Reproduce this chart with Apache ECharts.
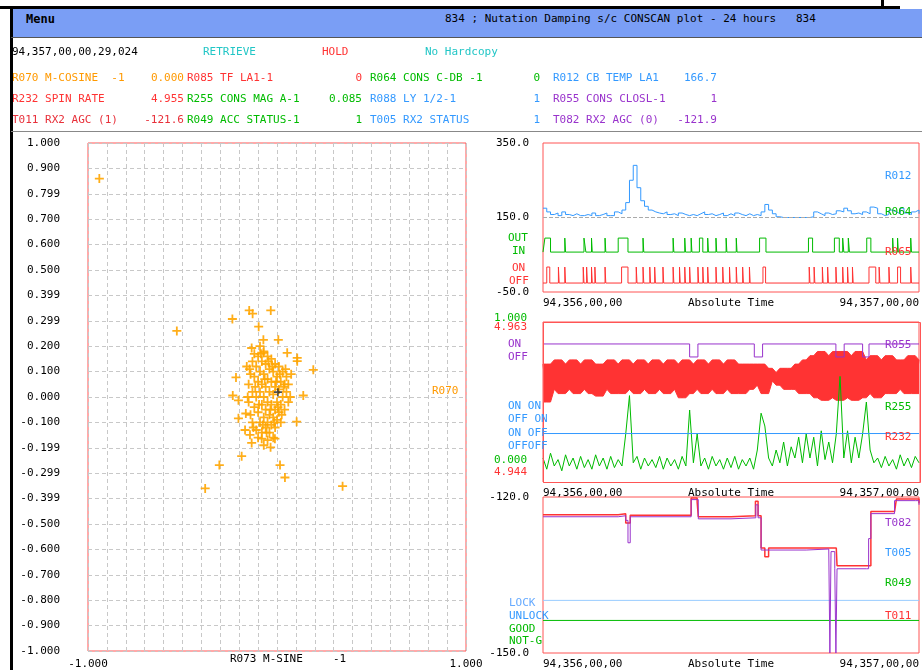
<!DOCTYPE html>
<html>
<head>
<meta charset="utf-8">
<script src="https://cdn.jsdelivr.net/npm/echarts@6/dist/echarts.min.js"></script>
<style>
  body { margin: 0; background: #fff; font-family: 'DejaVu Sans Mono', monospace; font-size: 11px; }
  #wrap { position: relative; width: 922px; height: 670px; overflow: hidden; }
  #chart { position: absolute; left: 0; top: 0; width: 922px; height: 670px; }
  .t { position: absolute; white-space: pre; z-index: 2; }
</style>
</head>
<body>
<div id="wrap">
  <div id="chart"></div>
  <div id="hdr"></div>
</div>
<script>
// ---- header texts ----
const headerRows = [
  [['R070 M-COSINE  -1', '0.000', '#ff9900'], ['R085 TF LA1-1', '0', '#ff3333'], ['R064 CONS C-DB -1', '0', '#00bb00'], ['R012 CB TEMP LA1', '166.7', '#3399ff']],
  [['R232 SPIN RATE', '4.955', '#ff3333'], ['R255 CONS MAG A-1', '0.085', '#00bb00'], ['R088 LY 1/2-1', '1', '#3399ff'], ['R055 CONS CLOSL-1', '1', '#9933cc']],
  [['T011 RX2 AGC (1)', '-121.6', '#e8303a'], ['R049 ACC STATUS-1', '1', '#00bb00'], ['T005 RX2 STATUS', '1', '#3399ff'], ['T082 RX2 AGC (0)', '-121.9', '#9933cc']]
];

// ---- scatter (R073 M-SINE vs R070 M-COSINE) ----
const scatterPts = [
  [-0.94, 0.86], [-0.53, 0.26], [-0.38, -0.36], [0.347, -0.351], [-0.305, -0.268], [0.016, -0.268], [0.042, -0.317],
  [-0.147, 0.341], [-0.129, 0.328], [-0.033, 0.341], [-0.236, 0.307], [-0.097, 0.277], [-0.072, 0.225], [0.007, 0.225],
  [-0.134, 0.193], [-0.072, 0.174], [0.054, 0.174], [0.107, 0.154], [0.107, 0.141], [0.192, 0.107], [-0.217, 0.077],
  [-0.234, 0.006], [-0.204, -0.013], [0.139, 0.006], [0.104, -0.097], [-0.204, -0.084], [-0.165, -0.065], [-0.169, -0.13],
  [-0.143, -0.149], [-0.134, -0.181], [-0.081, -0.164], [-0.034, -0.198], [-0.011, -0.164], [-0.187, -0.233],
  [-0.16, 0.12], [-0.15, 0.05], [-0.15, -0.02], [-0.14, 0.09], [-0.14, -0.07], [-0.13, 0.14], [-0.13, 0.02], [-0.13, -0.1],
  [-0.12, 0.17], [-0.12, 0.08], [-0.12, -0.04], [-0.11, 0.12], [-0.11, 0.0], [-0.11, -0.13], [-0.1, 0.16], [-0.1, 0.06],
  [-0.1, -0.06], [-0.1, -0.16], [-0.09, 0.2], [-0.09, 0.1], [-0.09, 0.02], [-0.09, -0.1], [-0.08, 0.14], [-0.08, 0.05],
  [-0.08, -0.03], [-0.08, -0.14], [-0.07, 0.18], [-0.07, 0.09], [-0.07, 0.0], [-0.07, -0.08], [-0.07, -0.19], [-0.06, 0.13],
  [-0.06, 0.04], [-0.06, -0.05], [-0.06, -0.12], [-0.05, 0.16], [-0.05, 0.07], [-0.05, -0.02], [-0.05, -0.1], [-0.05, -0.17],
  [-0.04, 0.11], [-0.04, 0.02], [-0.04, -0.07], [-0.04, -0.14], [-0.03, 0.15], [-0.03, 0.06], [-0.03, -0.03], [-0.03, -0.11],
  [-0.02, 0.1], [-0.02, 0.01], [-0.02, -0.08], [-0.02, -0.16], [-0.01, 0.13], [-0.01, 0.04], [-0.01, -0.05], [-0.01, -0.12],
  [0, 0.08], [0, -0.02], [0, -0.09], [0.01, 0.12], [0.01, 0.03], [0.01, -0.06], [0.02, 0.06], [0.02, -0.03], [0.02, -0.1],
  [0.03, 0.1], [0.03, 0.0], [0.04, 0.05], [0.04, -0.05], [0.05, 0.02], [0.05, 0.08], [0.06, -0.02],
  [-0.155, 0.0], [-0.145, 0.11], [-0.125, -0.12], [-0.115, 0.04], [-0.095, -0.03], [-0.085, 0.17], [-0.075, -0.11],
  [-0.065, 0.07], [-0.055, -0.14], [-0.045, 0.14], [-0.035, -0.05], [-0.025, 0.12], [-0.015, -0.1], [-0.005, 0.06],
  [0.005, -0.04], [0.015, 0.09], [0.025, -0.07], [0.035, 0.04], [0.045, 0.11], [0.06, 0.05], [0.07, 0.0], [0.075, 0.09]
];
const currentPt = [[0.005, 0.019]];
const scatterYLabels = ['-1.000', '-0.900', '-0.800', '-0.700', '-0.600', '-0.500', '-0.399', '-0.299', '-0.199', '-0.100', '0.000',
  '0.100', '0.200', '0.299', '0.399', '0.500', '0.600', '0.700', '0.799', '0.900', '1.000'];
const scatterXLabels = ['-1.000', '', '', '', '', '', '', '', '', '', '', '', '', '', '', '', '', '', '', '', '1.000'];

// ---- time panels (fraction of day 94,356) ----
const timeLabels = ['94,356,00,00', 'Absolute Time', '94,357,00,00'];
const r012 = [175, 165, 158, 162, 155, 165, 158, 155, 160, 155,
  155, 158, 155, 162, 155, 158, 162, 155, 155, 165,
  160, 170, 190, 250, 290, 230, 195, 180, 170, 165,
  162, 160, 165, 158, 160, 155, 162, 158, 155, 158,
  155, 160, 165, 158, 160, 155, 158, 162, 155, 160,
  155, 162, 158, 155, 160, 155, 158, 155, 165, 185,
  170, 160, 152, 150, 150, 150, 150, 150, 150, 150,
  150, 152, 165, 160, 155, 162, 158, 160, 168, 165,
  175, 168, 160, 162, 158, 165, 160, 178, 175, 160,
  155, 158, 170, 165, 160, 175, 162, 158, 165, 170, 160];
const r064Pulses = [[0.005, 0.02], [0.058, 0.06], [0.109, 0.114], [0.129, 0.131], [0.165, 0.167], [0.2, 0.226], [0.266, 0.268],
  [0.346, 0.348], [0.377, 0.379], [0.394, 0.396], [0.416, 0.425], [0.438, 0.44], [0.46, 0.462], [0.487, 0.489], [0.514, 0.516],
  [0.576, 0.593], [0.706, 0.717], [0.775, 0.788], [0.797, 0.8], [0.812, 0.815], [0.861, 0.872], [0.93, 0.932], [0.943, 0.945], [0.978, 0.98]];
const r065Pulses = [[0.01, 0.018], [0.041, 0.043], [0.058, 0.06], [0.107, 0.109], [0.116, 0.118], [0.129, 0.131], [0.138, 0.14],
  [0.165, 0.167], [0.209, 0.226], [0.248, 0.25], [0.266, 0.268], [0.284, 0.286], [0.297, 0.299], [0.319, 0.321], [0.346, 0.348],
  [0.363, 0.365], [0.377, 0.379], [0.39, 0.392], [0.412, 0.414], [0.425, 0.427], [0.438, 0.44], [0.46, 0.462], [0.478, 0.48],
  [0.496, 0.498], [0.514, 0.516], [0.531, 0.533], [0.549, 0.551], [0.585, 0.592], [0.708, 0.71], [0.721, 0.723], [0.743, 0.745],
  [0.757, 0.759], [0.779, 0.781], [0.797, 0.799], [0.81, 0.812], [0.823, 0.825], [0.867, 0.885], [0.894, 0.896], [0.92, 0.922],
  [0.943, 0.951], [0.978, 0.98]];

const r232 = [4.958, 4.9535, 4.958, 4.955, 4.9585, 4.9545, 4.958, 4.955, 4.9585, 4.9545,
  4.958, 4.955, 4.9585, 4.9545, 4.958, 4.9542, 4.958, 4.955, 4.9585, 4.9545,
  4.958, 4.9545, 4.9585, 4.955, 4.958, 4.9545, 4.9585, 4.955, 4.958, 4.9545,
  4.9585, 4.955, 4.958, 4.9545, 4.9585, 4.955, 4.958, 4.954, 4.9585, 4.9545,
  4.958, 4.955, 4.9585, 4.9545, 4.958, 4.955, 4.9585, 4.9545, 4.958, 4.955,
  4.9585, 4.9545, 4.958, 4.9545, 4.958, 4.955, 4.958, 4.9555, 4.958, 4.9545,
  4.9575, 4.956, 4.957, 4.9555, 4.9575, 4.955, 4.9575, 4.955, 4.958, 4.9545,
  4.9585, 4.9545, 4.959, 4.954, 4.9595, 4.9537, 4.959, 4.954, 4.9595, 4.9537,
  4.9595, 4.954, 4.959, 4.9537, 4.9595, 4.954, 4.9585, 4.9545, 4.959, 4.954,
  4.9585, 4.9545, 4.959, 4.9545, 4.9585, 4.955, 4.9585, 4.9545, 4.959, 4.9545, 4.9585];
const r255 = [0.15, 0.08, 0.18, 0.1, 0.14, 0.07, 0.17, 0.1, 0.15, 0.08,
  0.16, 0.09, 0.14, 0.08, 0.17, 0.1, 0.15, 0.08, 0.16, 0.09,
  0.14, 0.1, 0.3, 0.54, 0.12, 0.16, 0.08, 0.15, 0.1, 0.14,
  0.09, 0.16, 0.08, 0.15, 0.1, 0.14, 0.08, 0.16, 0.1, 0.45,
  0.12, 0.3, 0.1, 0.15, 0.08, 0.16, 0.1, 0.14, 0.08, 0.15,
  0.09, 0.16, 0.08, 0.14, 0.1, 0.15, 0.08, 0.2, 0.43, 0.35,
  0.15, 0.1, 0.2, 0.12, 0.25, 0.1, 0.22, 0.15, 0.28, 0.12,
  0.3, 0.15, 0.28, 0.1, 0.32, 0.14, 0.25, 0.12, 0.3, 0.66,
  0.15, 0.32, 0.12, 0.28, 0.15, 0.3, 0.5, 0.2, 0.12, 0.15,
  0.09, 0.16, 0.1, 0.14, 0.08, 0.17, 0.1, 0.15, 0.09, 0.16, 0.12];
const r055 = [[0, 1], [0.39, 0], [0.412, 1], [0.562, 0], [0.584, 1], [0.779, 0], [0.801, 1], [0.85, 0], [0.867, 1], [1, 1]];
const r088 = [[0, 1.5], [1, 1.5]];

const t082 = [[0, -123.8], [0.2, -123.6], [0.22, -124.5], [0.226, -128.8], [0.232, -123.8], [0.394, -120.5], [0.413, -124.2],
  [0.5, -124], [0.566, -121.5], [0.572, -124], [0.58, -130.2], [0.7, -130], [0.76, -130.2], [0.763, -150], [0.766, -130.5],
  [0.776, -133.8], [0.779, -150], [0.782, -133.8], [0.86, -133.8], [0.866, -128], [0.872, -123.2], [0.935, -120.7], [0.99, -120.7], [1, -121.5]];
const t011 = [[0, -123.4], [0.2, -123.2], [0.22, -125], [0.232, -123.5], [0.394, -120.2], [0.41, -121], [0.413, -123.8],
  [0.5, -123.6], [0.565, -120.8], [0.572, -123.6], [0.58, -129.8], [0.59, -131.5], [0.6, -129.8], [0.78, -129.8], [0.782, -133.2],
  [0.86, -133.2], [0.872, -122.8], [0.935, -122.8], [0.94, -120.4], [0.99, -120.4], [1, -121.2]];
const t005 = [[0, 1], [1, 1]];
const r049 = [[0, 1], [1, 1]];

const F = 'DejaVu Sans Mono';

// header html
const hdr = document.getElementById('hdr');
function addText(x, y, txt, color, extra) {
  const d = document.createElement('div');
  d.className = 't';
  d.style.left = x + 'px'; d.style.top = y + 'px'; d.style.color = color;
  if (extra) Object.assign(d.style, extra);
  d.textContent = txt;
  hdr.appendChild(d);
  return d;
}
const bar = document.createElement('div');
Object.assign(bar.style, { position: 'absolute', left: '11px', top: '9px', width: '911px', height: '28px', background: '#7a9ef5', zIndex: 1 });
hdr.appendChild(bar);
addText(26, 12, 'Menu', '#000', { fontWeight: 'bold', fontSize: '12px' });
addText(445, 12, '834 ; Nutation Damping s/c CONSCAN plot - 24 hours   834', '#000');
addText(12, 45, '94,357,00,00,29,024', '#000');
addText(203, 45, 'RETRIEVE', '#22c6c6');
addText(322, 45, 'HOLD', '#ff3333');
addText(425, 45, 'No Hardcopy', '#22c6c6');
const colName = [12, 187, 370, 553];
const colVal = [184, 362, 540, 717];
headerRows.forEach((row, ri) => {
  row.forEach((c, ci) => {
    addText(colName[ci], 71 + ri * 21, c[0], c[2]);
    addText(colVal[ci] - 80, 71 + ri * 21, c[1], c[2], { width: '80px', textAlign: 'right' });
  });
});
[[0, 6, 900, 3, '#000'], [10, 8, 3, 662, '#000'], [881, 0, 3, 8, '#000'], [11, 131, 911, 1, '#888'], [11, 37, 911, 1, '#555']].forEach(b => {
  const d = document.createElement('div');
  Object.assign(d.style, { position: 'absolute', left: b[0] + 'px', top: b[1] + 'px', width: b[2] + 'px', height: b[3] + 'px', background: b[4], zIndex: 3 });
  hdr.appendChild(d);
});

// ---- chart ----
function pulsesToSteps(pulses) {
  const out = [[0, 0]];
  pulses.forEach(p => { out.push([p[0], 0], [p[0], 1], [p[1], 1], [p[1], 0]); });
  out.push([1, 0]);
  return out;
}
const daily = arr => arr.map((v, i) => [i / (arr.length - 1), v]);
// min / max envelope of the spin-rate samples around each point
const r232Lo = r232.map((v, i) => Math.min(v, r232[i - 1] ?? v, r232[i + 1] ?? v));
const r232Hi = r232.map((v, i) => Math.max(v, r232[i - 1] ?? v, r232[i + 1] ?? v));

const panels = [
  { top: 143, height: 149 },
  { top: 322, height: 160 },
  { top: 497, height: 163 }
];
const grids = [{ left: 88, top: 143, width: 378, height: 517, show: true, borderColor: '#ff5555', borderWidth: 1 }]
  .concat(panels.map(p => ({ left: 543, top: p.top, width: 377, height: p.height, show: true, borderColor: '#ff5555', borderWidth: 1 })));

const lbl = { fontFamily: F, fontSize: 11, color: '#000' };
const xAxes = [
  { gridIndex: 0, type: 'value', min: -1, max: 1, interval: 0.1,
    axisLine: { show: false }, axisTick: { show: false },
    axisLabel: Object.assign({}, lbl, { formatter: (v, i) => scatterXLabels[i] || '' }),
    splitLine: { lineStyle: { color: '#c8c8c8', type: [4, 3] } } }
];
for (let g = 1; g <= 3; g++) {
  xAxes.push({ gridIndex: g, type: 'value', min: 0, max: 1, interval: 0.5,
    axisLine: { show: false }, axisTick: { show: false }, splitLine: { show: false },
    axisLabel: Object.assign({}, lbl, { formatter: (v, i) => timeLabels[i], alignMinLabel: 'left', alignMaxLabel: 'right', margin: 6 }) });
}
const hid = (g, min, max) => ({ gridIndex: g, type: 'value', min: min, max: max, show: false, splitLine: { show: false } });
const yAxes = [
  { gridIndex: 0, type: 'value', min: -1, max: 1, interval: 0.1,
    axisLine: { show: false }, axisTick: { show: false },
    axisLabel: Object.assign({}, lbl, { formatter: (v, i) => scatterYLabels[i], margin: 28 }),
    splitLine: { lineStyle: { color: '#c8c8c8', type: [4, 3] } } },
  { gridIndex: 1, type: 'value', min: -50, max: 350, interval: 200, axisLine: { show: false }, axisTick: { show: false },
    splitLine: { show: false }, axisLabel: Object.assign({}, lbl, { formatter: v => v.toFixed(1), margin: 14 }) },
  hid(1, -2.85, 7.79),       // 2 R064
  hid(1, -0.56, 8.75),       // 3 R065
  hid(2, 0, 1),              // 4 R255
  hid(2, 4.944, 4.963),      // 5 R232
  hid(2, -9.62, 2.69),       // 6 R055
  hid(2, -2.43, 10.54),      // 7 R088
  { gridIndex: 3, type: 'value', min: -150, max: -120, interval: 30, axisLine: { show: false }, axisTick: { show: false },
    splitLine: { show: false }, axisLabel: Object.assign({}, lbl, { formatter: v => v.toFixed(1), margin: 14 }) },
  hid(3, -3.23, 9.31),       // 9 T005
  hid(3, -1.43, 10.21)       // 10 R049
];

const line = (name, x, y, data, color, extra) => Object.assign({
  name: name, type: 'line', xAxisIndex: x, yAxisIndex: y, data: data, symbol: 'none', animation: false,
  lineStyle: { color: color, width: 1 }, itemStyle: { color: color }
}, extra || {});
const cross = 'path://M4,0h2v10h-2z M0,4h10v2h-10z';

const txt = (x, y, s, color, align) => ({ type: 'text', left: x, top: y, z: 100,
  style: { text: s, fill: color, font: '11px ' + F, textAlign: align || 'left' } });
const graphics = [
  { type: 'rect', z: 100, shape: { x: 543.5, y: 322.5, width: 377, height: 160 }, style: { fill: 'none', stroke: '#ff5555', lineWidth: 1 }, silent: true },
  txt(432, 386, 'R070', '#ff9900'),
  txt(230, 654, 'R073 M-SINE', '#000'), txt(333, 654, '-1', '#000'),
  txt(885, 171, 'R012', '#3399ff'), txt(885, 207, 'R064', '#00bb00'), txt(885, 247, 'R065', '#ff3333'),
  txt(508, 233, 'OUT', '#00bb00'), txt(512, 246, 'IN', '#00bb00'), txt(512, 263, 'ON', '#ff3333'), txt(509, 276, 'OFF', '#ff3333'),
  txt(494, 313, '1.000', '#00bb00'), txt(494, 322, '4.963', '#ff3333'), txt(508, 339, 'ON', '#9933cc'), txt(508, 352, 'OFF', '#9933cc'),
  txt(508, 401, 'ON ON', '#3399ff'), txt(508, 414, 'OFF ON', '#3399ff'), txt(508, 428, 'ON OFF', '#3399ff'), txt(508, 441, 'OFFOFF', '#3399ff'),
  txt(494, 455, '0.000', '#00bb00'), txt(494, 467, '4.944', '#ff3333'),
  txt(885, 340, 'R055', '#9933cc'), txt(885, 402, 'R255', '#00bb00'), txt(885, 432, 'R232', '#ff3333'),
  txt(509, 598, 'LOCK', '#66aaff'), txt(509, 611, 'UNLOCK', '#3399ff'), txt(509, 624, 'GOOD', '#00bb00'), txt(509, 636, 'NOT-G', '#00bb00'),
  txt(885, 518, 'T082', '#9933cc'), txt(885, 548, 'T005', '#3399ff'), txt(885, 578, 'R049', '#00bb00'), txt(885, 611, 'T011', '#ff3333')
];

const chart = echarts.init(document.getElementById('chart'), null, { renderer: 'canvas' });
chart.setOption({
  backgroundColor: '#fff',
  animation: false,
  grid: grids,
  xAxis: xAxes,
  yAxis: yAxes,
  graphic: graphics,
  series: [
    { name: 'R070', type: 'scatter', xAxisIndex: 0, yAxisIndex: 0, data: scatterPts, symbol: cross, symbolSize: 9,
      itemStyle: { color: '#ffa500', opacity: 0.9 } },
    { name: 'now', type: 'scatter', xAxisIndex: 0, yAxisIndex: 0, data: currentPt, symbol: cross, symbolSize: 8, itemStyle: { color: '#222' } },
    line('R012', 1, 1, daily(r012), '#3399ff', { step: 'end',
      markLine: { silent: true, symbol: 'none', label: { show: false }, lineStyle: { color: '#aaa', type: 'dashed', width: 1 }, data: [{ yAxis: 150 }] } }),
    line('R064', 1, 2, pulsesToSteps(r064Pulses), '#00bb00'),
    line('R065', 1, 3, pulsesToSteps(r065Pulses), '#ff3333'),
    line('R232hi', 2, 5, daily(r232Hi), '#ff3333', { areaStyle: { color: '#ff3333', opacity: 1, origin: 'start' } }),
    line('R232lo', 2, 5, daily(r232Lo), '#ff3333', { areaStyle: { color: '#ffffff', opacity: 1, origin: 'start' } }),
    line('R232', 2, 5, daily(r232), '#ff3333', { lineStyle: { color: '#ff3333', width: 1 } }),
    line('R255', 2, 4, daily(r255), '#00bb00'),
    line('R055', 2, 6, r055, '#9933cc', { step: 'end' }),
    line('R088', 2, 7, r088, '#3399ff'),
    line('T005', 3, 9, t005, '#99ccff'),
    line('R049', 3, 10, r049, '#00bb00'),
    line('T011', 3, 8, t011, '#ff3333', { step: 'end', lineStyle: { color: '#ff3333', width: 1.5 } }),
    line('T082', 3, 8, t082, '#9933cc', { step: 'end' })
  ]
});
</script>
</body>
</html>
